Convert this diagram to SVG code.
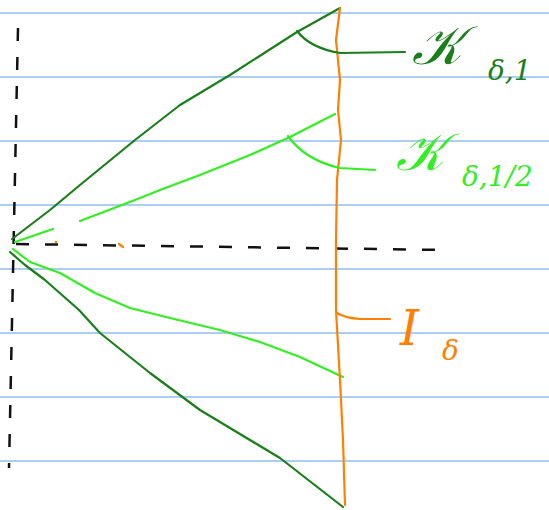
<svg xmlns="http://www.w3.org/2000/svg" width="549" height="510" viewBox="0 0 549 510">
<style>
.rule{stroke:#5b9bea;stroke-width:1.2}
.dg{stroke:#1a7f1a;stroke-width:2.2;fill:none;stroke-linecap:round;stroke-linejoin:round}
.lg{stroke:#33ee22;stroke-width:2.2;fill:none;stroke-linecap:round;stroke-linejoin:round}
.or{stroke:#ff8000;stroke-width:2.2;fill:none;stroke-linecap:round;stroke-linejoin:round}
.dash{stroke:#111;stroke-width:2.5;fill:none;stroke-dasharray:13 16}
.lbl{font-family:"DejaVu Serif","Liberation Serif",serif;font-style:italic}
</style>
<rect width="549" height="510" fill="#fff"/>
<g id="rules">
<line class="rule" x1="0" y1="13" x2="549" y2="13"/>
<line class="rule" x1="0" y1="77" x2="549" y2="77"/>
<line class="rule" x1="0" y1="141" x2="549" y2="141"/>
<line class="rule" x1="0" y1="205" x2="549" y2="205"/>
<line class="rule" x1="0" y1="269" x2="549" y2="269"/>
<line class="rule" x1="0" y1="333" x2="549" y2="333"/>
<line class="rule" x1="0" y1="397" x2="549" y2="397"/>
<line class="rule" x1="0" y1="461" x2="549" y2="461"/>
</g>
<g id="axes">
<path class="dash" d="M18 28 L9 468"/>
<path class="dash" d="M16 244 L445 250"/>
</g>
<g id="connectors">
<path class="dg" d="M12 239 L50 210 L80 185 L135 140 L180 105 L230 75 L297 32 L340 8"/>
<path class="dg" d="M10 252 L25 265 L45 280 L79 310 L100 333 L150 373 L200 410 L280 458 L343 507"/>
<path class="lg" d="M15 242 L53 229"/>
<path class="lg" d="M80 221 L135 200 L160 190 L200 175 L250 155 L290 137 L335 114"/>
<path class="lg" d="M13 249 L30 262 L60 273 L95 293 L130 308 L170 318 L220 330 L260 342 L300 357 L343 377"/>
<path class="or" d="M340 8 L336 40 L340 80 L338 110 L341 140 L337 180 L336 240 L336 310 L340 380 L343 440 L345 505"/>
<path class="dg" d="M297 31 Q310 48 340 53 L405 52"/>
<path class="lg" d="M288 136 Q305 160 340 168 L375 170"/>
<path class="or" d="M337 313 Q345 318 360 319 L390 319"/>
<circle cx="56" cy="242" r="1.3" fill="#ff8000"/>
<path class="or" d="M119 244 L123 247"/>
</g>
<g id="label-K1" fill="#1a7f1a">
<text class="lbl" x="412" y="64" font-size="54">𝒦</text>
<text class="lbl" x="488" y="80" font-size="28">δ,1</text>
</g>
<g id="label-K12" fill="#33ee22">
<text class="lbl" x="396" y="170" font-size="52">𝒦</text>
<text class="lbl" x="462" y="186" font-size="28">δ,1/2</text>
</g>
<g id="label-I" fill="#ff8000">
<text class="lbl" x="400" y="345" font-size="48">I</text>
<text class="lbl" x="442" y="360" font-size="28">δ</text>
</g>
</svg>
